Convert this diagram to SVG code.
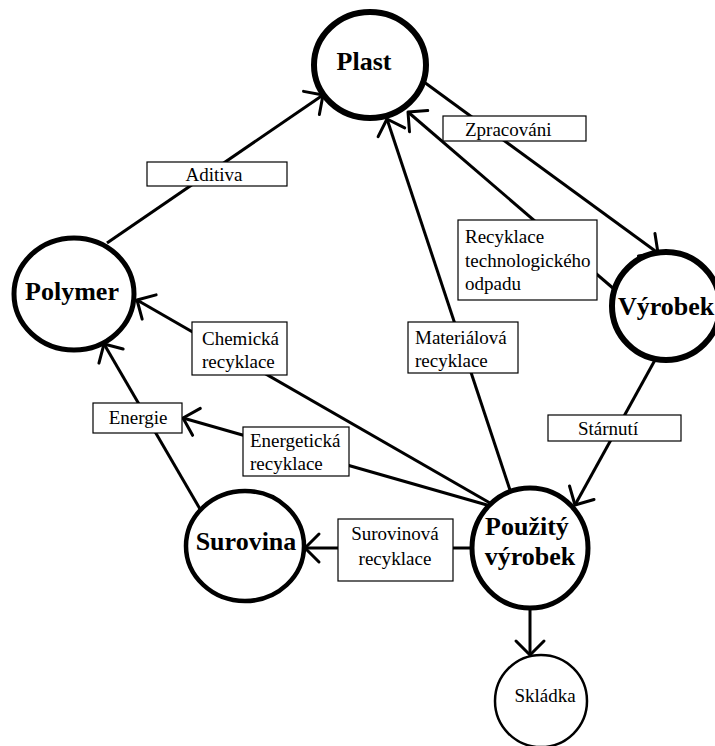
<svg xmlns="http://www.w3.org/2000/svg" width="715" height="746" viewBox="0 0 715 746">
<defs>
<marker id="arr" viewBox="-20 -20 40 40" markerWidth="40" markerHeight="40" refX="0" refY="0" orient="auto" markerUnits="userSpaceOnUse">
<path d="M-14,-14 L0,0 L-14,14" fill="none" stroke="#000" stroke-width="3" stroke-linecap="round" stroke-linejoin="round"/>
</marker>
</defs>
<style>
.node{fill:#fff;stroke:#000}
.nt{font-family:"Liberation Serif","Times New Roman",serif;font-weight:bold;font-size:26px;fill:#000}
.edge{stroke:#000;stroke-width:3;fill:none;marker-end:url(#arr)}
.lb{fill:#fff;stroke:#000;stroke-width:1.2}
.lt{font-family:"Liberation Serif","Times New Roman",serif;font-size:19px;fill:#000}
</style>
<rect width="715" height="746" fill="#fff"/>
<g id="plast"><ellipse class="node" cx="370" cy="65" rx="56" ry="53" stroke-width="6"/><text class="nt" x="364" y="70" text-anchor="middle" font-size="27">Plast</text></g>
<g id="polymer"><ellipse class="node" cx="74" cy="294" rx="60" ry="56" stroke-width="5"/><text class="nt" x="72" y="300" text-anchor="middle" font-size="27">Polymer</text></g>
<g id="vyrobek"><ellipse class="node" cx="666" cy="306" rx="54" ry="54" stroke-width="6"/><text class="nt" x="618" y="315">Výrobek</text></g>
<g id="surovina"><ellipse class="node" cx="245" cy="546" rx="59" ry="55" stroke-width="4.5"/><text class="nt" x="246" y="550" text-anchor="middle">Surovina</text></g>
<g id="pouzity"><ellipse class="node" cx="530" cy="548" rx="58" ry="60" stroke-width="5"/><text class="nt" x="527" y="535" text-anchor="middle">Použitý</text><text class="nt" x="530" y="565" text-anchor="middle">výrobek</text></g>
<g id="skladka"><ellipse class="node" cx="541" cy="701" rx="46" ry="46" stroke-width="2.5"/><text class="lt" x="545" y="702" text-anchor="middle" font-size="20">Skládka</text></g>
<g id="connectors">
<line class="edge" x1="424" y1="82" x2="658" y2="253"/>
<line class="edge" x1="614" y1="289" x2="408" y2="112"/>
<line class="edge" x1="510" y1="490" x2="387" y2="119"/>
<line class="edge" x1="107" y1="243" x2="323" y2="95"/>
<line class="edge" x1="655" y1="360" x2="575" y2="505"/>
<line class="edge" x1="490" y1="503" x2="137" y2="300"/>
<line class="edge" x1="487" y1="505" x2="183" y2="418"/>
<line class="edge" x1="200" y1="509" x2="104" y2="344"/>
<line class="edge" x1="470" y1="548" x2="305" y2="548"/>
<line class="edge" x1="530" y1="608" x2="530" y2="655"/>
</g>
<g id="labels">
<g id="l-aditiva"><rect class="lb" x="147" y="162" width="140" height="24"/><text class="lt" x="214" y="181" text-anchor="middle" font-size="18">Aditiva</text></g>
<g id="l-zprac"><rect class="lb" x="443" y="116" width="143" height="25"/><text class="lt" x="465" y="136">Zpracováni</text></g>
<g id="l-rectech"><rect class="lb" x="458" y="220" width="139" height="80"/><text class="lt" x="465" y="243">Recyklace</text><text class="lt" x="465" y="267">technologického</text><text class="lt" x="465" y="290">odpadu</text></g>
<g id="l-chem"><rect class="lb" x="192" y="322" width="95" height="53"/><text class="lt" x="202" y="345">Chemická</text><text class="lt" x="202" y="368">recyklace</text></g>
<g id="l-mat"><rect class="lb" x="408" y="322" width="110" height="51"/><text class="lt" x="415" y="344">Materiálová</text><text class="lt" x="415" y="367">recyklace</text></g>
<g id="l-energie"><rect class="lb" x="93" y="403" width="89" height="30"/><text class="lt" x="138" y="424" text-anchor="middle">Energie</text></g>
<g id="l-energ"><rect class="lb" x="243" y="427" width="106" height="49"/><text class="lt" x="250" y="447">Energetická</text><text class="lt" x="250" y="470">recyklace</text></g>
<g id="l-starnuti"><rect class="lb" x="548" y="415" width="133" height="26"/><text class="lt" x="578" y="435">Stárnutí</text></g>
<g id="l-surov"><rect class="lb" x="338" y="519" width="115" height="62"/><text class="lt" x="395" y="540" text-anchor="middle" font-size="17">Surovinová</text><text class="lt" x="395" y="565" text-anchor="middle" font-size="17">recyklace</text></g>
</g>
</svg>
